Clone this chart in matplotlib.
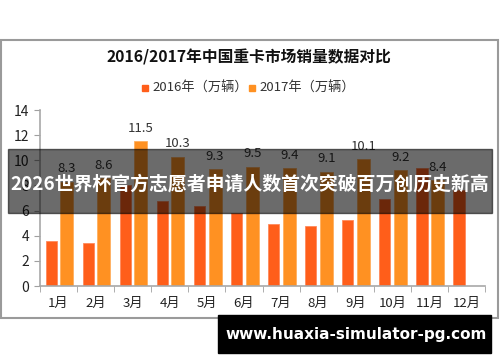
import matplotlib
matplotlib.use("Agg")
import matplotlib.pyplot as plt
from matplotlib.patches import Rectangle
import numpy as np

plt.rcParams['font.family'] = ['Noto Sans CJK SC', 'DejaVu Sans']

months = ["1月", "2月", "3月", "4月", "5月", "6月", "7月", "8月", "9月", "10月", "11月", "12月"]
sales_2016 = [3.6, 3.4, 8.0, 6.8, 6.4, 5.8, 4.9, 4.8, 5.25, 6.9, 9.4, 7.6]
sales_2017 = [8.3, 8.6, 11.5, 10.3, 9.3, 9.5, 9.4, 9.1, 10.1, 9.2, 8.4, None]
yticks = [0, 2, 4, 6, 8, 10, 12, 14]
title = "2016/2017年中国重卡市场销量数据对比"
legend_labels = ["2016年（万辆）", "2017年（万辆）"]
banner = "2026世界杯官方志愿者申请人数首次突破百万创历史新高"
url = "www.huaxia-simulator-pg.com"

W, H = 500, 362
fig = plt.figure(figsize=(W / 100, H / 100), dpi=100)
fig.patch.set_facecolor("white")

def fx(x):
    return x / W

def fy(y):
    return 1 - y / H

# chart frame
fig.patches.append(Rectangle((fx(1), fy(318)), fx(497), (318 - 40) / H,
                             transform=fig.transFigure, fill=False,
                             edgecolor="#9a9a9a", lw=1.5, zorder=0))

ax = fig.add_axes([fx(40), fy(286), fx(445), (286 - 110) / H])
x = np.arange(len(months))
c16 = "#FF5E1A"
c17 = "#FF9122"
ax.bar(x - 0.2, sales_2016, width=0.3, color=c16, edgecolor="#FF8A5C", lw=0.6, zorder=2)
xs17 = [xi + 0.22 for xi, v in zip(x, sales_2017) if v is not None]
vals17 = [v for v in sales_2017 if v is not None]
ax.bar(xs17, vals17, width=0.35, color=c17, edgecolor="#FFB060", lw=0.6, zorder=2)
for xi, v in zip(xs17, vals17):
    ax.text(xi, v + 0.5, f"{v:g}", ha="center", va="bottom", fontsize=9.5, color="#333333")

ax.set_xlim(-0.5, len(months) - 0.5)
ax.set_ylim(0, 14)
ax.set_yticks(yticks)
ax.set_yticklabels([str(t) for t in yticks], fontsize=10, color="#222222")
ax.set_xticks(x)
ax.set_xticklabels(months, fontsize=9.5, color="#222222")
ax.tick_params(axis="x", length=0, pad=8)
ax.set_xticks(np.arange(-0.5, len(months), 1.0), minor=True)
ax.tick_params(axis="x", which="minor", length=4, color="#a0a0a0")
ax.tick_params(axis="y", length=4, color="#a0a0a0", pad=4)
for s in ["top", "right"]:
    ax.spines[s].set_visible(False)
for s in ["left", "bottom"]:
    ax.spines[s].set_color("#a8a8a8")
    ax.spines[s].set_linewidth(1.2)

fig.text(fx(249), fy(57), title, ha="center", va="center", fontsize=11.3,
         fontweight="bold", color="#111111")
# legend
for (lx, lab, col) in [(145, legend_labels[0], c16), (252, legend_labels[1], c17)]:
    fig.patches.append(Rectangle((fx(lx - 3), fy(91)), fx(6), 6 / H,
                                 transform=fig.transFigure, color=col))
    fig.text(fx(lx + 7), fy(88), lab, ha="left", va="center", fontsize=9.5, color="#333333")

# banner overlay
fig.patches.append(Rectangle((fx(8), fy(213)), fx(484), (213 - 149) / H,
                             transform=fig.transFigure, color="black", alpha=0.58, zorder=10))
fig.text(fx(250), fy(184), banner, ha="center", va="center", fontsize=13.6,
         fontweight="bold", color="white", zorder=11)

# url box
fig.patches.append(Rectangle((fx(218), fy(353)), fx(273), (353 - 315) / H,
                             transform=fig.transFigure, color="black", zorder=10))
fig.text(fx(356), fy(334), url, ha="center", va="center", fontsize=11,
         fontweight="bold", color="white", zorder=11, family="DejaVu Sans")

fig.savefig("out.png", dpi=100, facecolor="white")
